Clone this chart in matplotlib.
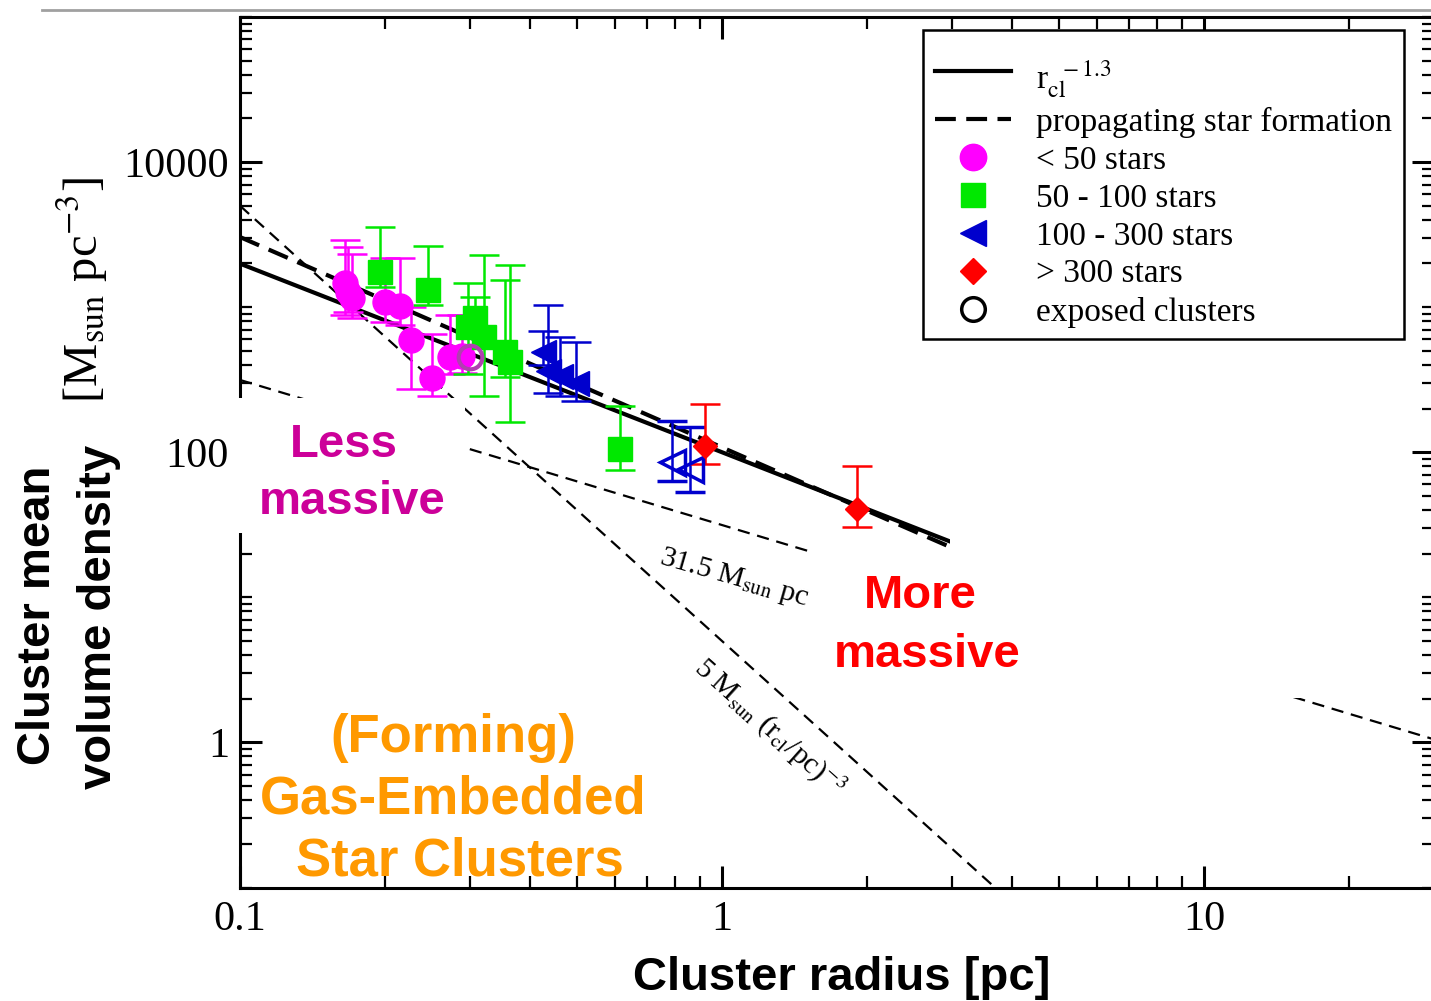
import numpy as np
import matplotlib
matplotlib.use('Agg')
import matplotlib.pyplot as plt
from matplotlib.lines import Line2D
from matplotlib.patches import Rectangle
from matplotlib.ticker import LogLocator, FixedLocator, FixedFormatter, NullFormatter

W, H = 1431, 1001

plt.rcParams['font.family'] = ['Liberation Serif', 'DejaVu Serif']
plt.rcParams['mathtext.fontset'] = 'stix'

# < 50 stars (magenta circles)
r_lt50 = np.array([0.165, 0.1675, 0.171, 0.200, 0.215, 0.2265, 0.250, 0.273, 0.289])
rho_lt50 = np.array([1473, 1280, 1161, 1092, 1024, 598, 323, 450, 464])
hi_lt50 = np.array([2910, 2600, 2334, 2190, 2190, 1000, 650, 887, 887])
lo_lt50 = np.array([887, 931, 847, 795, 758, 271, 243, 344, 350])

# 50 - 100 stars (green squares)
r_50_100 = np.array([0.195, 0.245, 0.297, 0.307, 0.321, 0.355, 0.363, 0.614])
rho_50_100 = np.array([1754, 1318, 735, 847, 627, 494, 416, 105])
hi_50_100 = np.array([3573, 2649, 1473, 1180, 2297, 1545, 1960, 207])
lo_50_100 = np.array([1384, 1040, 344, 640, 243, 330, 161, 76])

# 100 - 300 stars (blue triangles)
r_100_300 = np.array([0.425, 0.4355, 0.461, 0.498])
rho_100_300 = np.array([494, 361, 338, 298])
hi_100_300 = np.array([680, 1040, 627, 579])
lo_100_300 = np.array([400, 258, 243, 224])

# 100 - 300 stars, exposed (open triangles)
r_100_300_exp = np.array([0.788, 0.858])
rho_100_300_exp = np.array([85.3, 76.3])
hi_100_300_exp = np.array([163, 149])
lo_100_300_exp = np.array([63, 53])

# > 300 stars (red diamonds)
r_gt300 = np.array([0.922, 1.905])
rho_gt300 = np.array([110, 40.5])
hi_gt300 = np.array([214, 80.2])
lo_gt300 = np.array([82.6, 30.5])

# exposed cluster, < 50 stars
r_exp = np.array([0.30])
rho_exp = np.array([450])

# model curves
norm_fit, slope_fit = 100.0, -1.3
norm_prop, slope_prop = 108.0, -1.45
norm_mass5, norm_surf = 5.0, 31.5
r_end_fit = 3.0

MAG, GRN, BLU, RED = '#FF00FF', '#00E800', '#0000CD', '#FF0000'


def fx(px):
    return px / W


def fy(py):
    return 1 - py / H


fig = plt.figure(figsize=(W / 100, H / 100), dpi=100)
ax = fig.add_axes([fx(240), fy(887.5), (1434 - 240) / W, (887.5 - 17) / H])
ax.set_xscale('log')
ax.set_yscale('log')
ax.set_xlim(0.1, 30)
ax.set_ylim(0.1, 1e5)

r_all = np.logspace(-1, np.log10(30), 300)
r_fit = np.logspace(-1, np.log10(r_end_fit), 200)
ax.plot(r_fit, norm_fit * r_fit ** slope_fit, color='k', lw=3, zorder=2)
ax.plot(r_fit, norm_prop * r_fit ** slope_prop, color='k', lw=3, dashes=(5, 2.5), zorder=2)
ax.plot(r_all, norm_mass5 * r_all ** -3, color='k', lw=1.6, dashes=(5.5, 3.5), zorder=2)
ax.plot(r_all, norm_surf * r_all ** -1, color='k', lw=1.6, dashes=(5.5, 3.5), zorder=2)

eb = dict(capsize=11, elinewidth=1.8, capthick=1.8, zorder=3, ls='none')
ax.errorbar(r_lt50, rho_lt50, yerr=[rho_lt50 - lo_lt50, hi_lt50 - rho_lt50],
            marker='o', ms=18, color=MAG, **eb)
ax.errorbar(r_50_100, rho_50_100, yerr=[rho_50_100 - lo_50_100, hi_50_100 - rho_50_100],
            marker='s', ms=17, color=GRN, **eb)
ax.errorbar(r_100_300, rho_100_300, yerr=[rho_100_300 - lo_100_300, hi_100_300 - rho_100_300],
            marker='<', ms=18, color=BLU, **eb)
ax.errorbar(r_100_300_exp, rho_100_300_exp,
            yerr=[rho_100_300_exp - lo_100_300_exp, hi_100_300_exp - rho_100_300_exp],
            marker='<', ms=18, color=BLU, mfc='none', mew=2.5, **eb)
ax.errorbar(r_gt300, rho_gt300, yerr=[rho_gt300 - lo_gt300, hi_gt300 - rho_gt300],
            marker='D', ms=12.5, color=RED, **eb)
ax.plot(r_exp, rho_exp, ls='none', marker='o', ms=17, mfc='none', mec='#B040B0', mew=3, zorder=4)

# labels along the thin dashed lines
ax.text(0.736, 17.2, r'31.5 M$_{\rm sun}$ pc', fontsize=21.5, rotation=-16,
        rotation_mode='anchor', ha='left', va='baseline')
ax.text(0.867, 3.15, r'5 M$_{\rm sun}$ (r$_{\rm cl}$/pc)$^{-3}$', fontsize=21, rotation=-42,
        rotation_mode='anchor', ha='left', va='baseline')

# ticks
ax.xaxis.set_major_locator(FixedLocator([0.1, 1, 10]))
ax.xaxis.set_major_formatter(FixedFormatter(['0.1', '1', '10']))
ax.xaxis.set_minor_locator(LogLocator(base=10, subs=np.arange(2, 10), numticks=100))
ax.xaxis.set_minor_formatter(NullFormatter())
ax.yaxis.set_major_locator(FixedLocator([1, 100, 10000]))
ax.yaxis.set_major_formatter(FixedFormatter(['1', '100', '10000']))
ax.yaxis.set_minor_locator(LogLocator(base=10, subs=np.arange(1, 10), numticks=100))
ax.yaxis.set_minor_formatter(NullFormatter())
ax.tick_params(which='both', direction='in', top=True, right=True)
ax.tick_params(which='major', length=16, width=2.2, labelsize=30.5)
ax.tick_params(axis='x', which='major', pad=9)
ax.tick_params(axis='y', which='major', pad=8)
ax.tick_params(which='minor', length=8.5, width=1.6)
for sp in ax.spines.values():
    sp.set_linewidth(2.2)

# legend
handles = [
    Line2D([], [], color='k', lw=3),
    Line2D([], [], color='k', lw=3, dashes=(5, 2.5)),
    Line2D([], [], ls='none', marker='o', ms=19, color=MAG),
    Line2D([], [], ls='none', marker='s', ms=17, color=GRN),
    Line2D([], [], ls='none', marker='<', ms=19, color=BLU),
    Line2D([], [], ls='none', marker='D', ms=13, color=RED),
    Line2D([], [], ls='none', marker='o', ms=17, mfc='none', mec='k', mew=2.5),
]
labels = ['\n' + r'r$_{\rm cl}^{\ \ -1.3}$', 'propagating star formation', '< 50 stars',
          '50 - 100 stars', '100 - 300 stars', '> 300 stars', 'exposed clusters']
leg = ax.legend(handles, labels, loc='upper right', bbox_to_anchor=(fx(1404), fy(30)),
                bbox_transform=fig.transFigure, fontsize=24, fancybox=False,
                edgecolor='black', framealpha=1, borderpad=0.35, handlelength=2.3,
                handletextpad=0.75, labelspacing=0.22, borderaxespad=0)
leg.get_frame().set_linewidth(1.8)
leg.get_texts()[0].set_linespacing(0.55)
leg.set_zorder(10)

# original axis label (serif)
fig.text(fx(82), fy(290), r'[M$_{\rm sun}$ pc$^{-3}$]', fontsize=35, rotation=90,
         ha='center', va='center')

# top rule of the slide
fig.add_artist(Line2D([fx(42), 1], [fy(10), fy(10)], color='#A0A0A0', lw=2,
                      transform=fig.transFigure))

# white cover boxes pasted on the slide
for x0, y0, x1, y1 in [(237, 398, 465, 533), (810, 548, 1045, 692), (950, 348, 1408, 698)]:
    fig.add_artist(Rectangle((fx(x0), fy(y1)), (x1 - x0) / W, (y1 - y0) / H,
                             transform=fig.transFigure, facecolor='white',
                             edgecolor='none', zorder=5))

bold = dict(fontfamily='Liberation Sans', fontweight='bold', zorder=6)
fig.text(fx(344), fy(457), 'Less', color='#CC0099', fontsize=34, ha='center', va='baseline', **bold)
fig.text(fx(352), fy(514), 'massive', color='#CC0099', fontsize=34, ha='center', va='baseline', **bold)
fig.text(fx(920), fy(608), 'More', color=RED, fontsize=34, ha='center', va='baseline', **bold)
fig.text(fx(927), fy(667), 'massive', color=RED, fontsize=34, ha='center', va='baseline', **bold)
fig.text(fx(453), fy(752), '(Forming)', color='#FF9900', fontsize=38, ha='center', va='baseline', **bold)
fig.text(fx(453), fy(813), 'Gas-Embedded', color='#FF9900', fontsize=38, ha='center', va='baseline', **bold)
fig.text(fx(460), fy(876), 'Star Clusters', color='#FF9900', fontsize=38, ha='center', va='baseline', **bold)

fig.text(fx(842), fy(990), 'Cluster radius [pc]', color='k', fontsize=34, ha='center', va='baseline', **bold)
fig.text(fx(38), fy(615), 'Cluster mean', color='k', fontsize=34, rotation=90, ha='center', va='center', **bold)
fig.text(fx(99), fy(617), 'volume density', color='k', fontsize=34, rotation=90, ha='center', va='center', **bold)

fig.savefig('out.png', dpi=100)
